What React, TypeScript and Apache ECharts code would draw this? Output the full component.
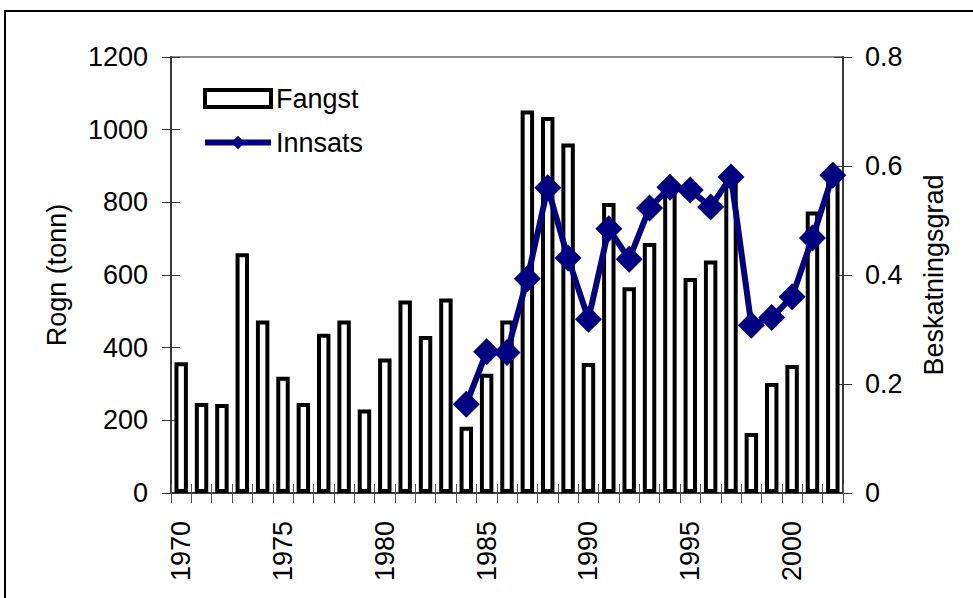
import React, { useEffect, useRef } from "react";
import * as echarts from "echarts";

const years: string[] = [
  "1970","1971","1972","1973","1974","1975","1976","1977","1978","1979",
  "1980","1981","1982","1983","1984","1985","1986","1987","1988","1989",
  "1990","1991","1992","1993","1994","1995","1996","1997","1998","1999",
  "2000","2001","2002",
];

const fangst: number[] = [
  360, 248, 245, 660, 475, 320, 248, 438, 475, 230,
  370, 530, 432, 535, 182, 328, 475, 1053, 1035, 962,
  358, 798, 566, 688, 840, 592, 640, 860, 165, 303,
  352, 775, 865,
];

const innsats: (number | null)[] = [
  null, null, null, null, null, null, null, null, null, null,
  null, null, null, null, 0.163, 0.259, 0.258, 0.393, 0.560, 0.431,
  0.319, 0.485, 0.429, 0.523, 0.561, 0.556, 0.525, 0.580, 0.308, 0.322,
  0.360, 0.468, 0.583,
];

const leftTicks = { min: 0, max: 1200, interval: 200 };
const rightTicks = { min: 0, max: 0.8, interval: 0.2 };

const FONT = "'Liberation Sans', Arial, sans-serif";

export default function App() {
  const ref = useRef<HTMLDivElement>(null);
  useEffect(() => {
    if (!ref.current) return;
    const chart = echarts.init(ref.current, undefined, { renderer: "svg" });
    const axisCol = "#3a3a3a";
    chart.setOption({
      animation: false,
      backgroundColor: "#ffffff",
      textStyle: { fontFamily: FONT },
      grid: {
        left: 171,
        right: 130,
        top: 57,
        bottom: 105,
        show: true,
        borderColor: "#8c8c8c",
        borderWidth: 2,
        backgroundColor: "transparent",
      },
      graphic: [
        {
          type: "rect",
          shape: { x: 5, y: 11, width: 1100, height: 1100 },
          style: { fill: "none", stroke: "#000", lineWidth: 2 },
          silent: true,
        },
      ],
      legend: {
        left: 197,
        top: 80,
        orient: "vertical",
        itemWidth: 66,
        itemHeight: 17,
        itemGap: 17,
        itemTextGap: 3,
        textStyle: { fontSize: 27, color: "#000", fontFamily: FONT },
        data: [
          {
            name: "Fangst",
            icon: "rect",
            itemStyle: { color: "#ffffff", borderColor: "#000000", borderWidth: 4 },
          },
          {
            name: "Innsats",
            itemStyle: { color: "#000080" },
            lineStyle: { color: "#000080", width: 6 },
          },
        ],
      },
      xAxis: [
        {
          type: "category",
          data: years,
          position: "bottom",
          axisLine: { lineStyle: { color: axisCol, width: 2 } },
          axisTick: { show: true, inside: false, length: 10, interval: 0, lineStyle: { color: "#555" } },
          axisLabel: {
            rotate: 90,
            interval: 4,
            margin: 28,
            fontSize: 27,
            color: "#000",
            fontFamily: FONT,
          },
        },
        {
          type: "category",
          data: years,
          position: "bottom",
          axisLine: { show: false },
          axisTick: { show: true, inside: true, length: 9, interval: 0, lineStyle: { color: "#555" } },
          axisLabel: { show: false },
        },
      ],
      yAxis: [
        {
          type: "value",
          position: "left",
          ...leftTicks,
          name: "Rogn (tonn)",
          nameLocation: "middle",
          nameGap: 101,
          nameRotate: 90,
          nameTextStyle: { fontSize: 27, color: "#000", fontFamily: FONT },
          splitLine: { show: false },
          axisLine: { show: true, lineStyle: { color: axisCol, width: 2 } },
          axisTick: { show: true, inside: false, length: 9, lineStyle: { color: "#333" } },
          axisLabel: {
            margin: 23,
            fontSize: 27,
            color: "#000",
            fontFamily: FONT,
            formatter: (v: number) => String(v),
          },
        },
        {
          type: "value",
          position: "right",
          ...rightTicks,
          name: "Beskatningsgrad",
          nameLocation: "middle",
          nameGap: 77,
          nameRotate: 90,
          nameTextStyle: { fontSize: 27, color: "#000", fontFamily: FONT },
          splitLine: { show: false },
          axisLine: { show: true, lineStyle: { color: axisCol, width: 2 } },
          axisTick: { show: true, inside: false, length: 9, lineStyle: { color: "#333" } },
          axisLabel: {
            margin: 22,
            fontSize: 27,
            color: "#000",
            fontFamily: FONT,
            formatter: (v: number) => String(Math.round(v * 10) / 10),
          },
        },
        {
          type: "value",
          position: "left",
          ...leftTicks,
          splitLine: { show: false },
          axisLine: { show: false },
          axisTick: { show: true, inside: true, length: 9, lineStyle: { color: "#333" } },
          axisLabel: { show: false },
        },
        {
          type: "value",
          position: "right",
          ...rightTicks,
          splitLine: { show: false },
          axisLine: { show: false },
          axisTick: { show: true, inside: true, length: 9, lineStyle: { color: "#333" } },
          axisLabel: { show: false },
        },
      ],
      series: [
        {
          name: "Fangst",
          type: "bar",
          xAxisIndex: 0,
          yAxisIndex: 0,
          data: fangst,
          barWidth: "66%",
          itemStyle: { color: "#ffffff", borderColor: "#000000", borderWidth: 4 },
          z: 2,
        },
        {
          name: "Innsats",
          type: "line",
          xAxisIndex: 0,
          yAxisIndex: 1,
          data: innsats,
          connectNulls: false,
          symbol: "diamond",
          symbolSize: 27,
          showSymbol: true,
          showAllSymbol: true,
          lineStyle: { color: "#000080", width: 6 },
          itemStyle: { color: "#000080" },
          z: 5,
        },
      ],
    });
    return () => chart.dispose();
  }, []);
  return (
    <div
      ref={ref}
      style={{ position: "fixed", left: 0, top: 0, width: 973, height: 598 }}
    />
  );
}
